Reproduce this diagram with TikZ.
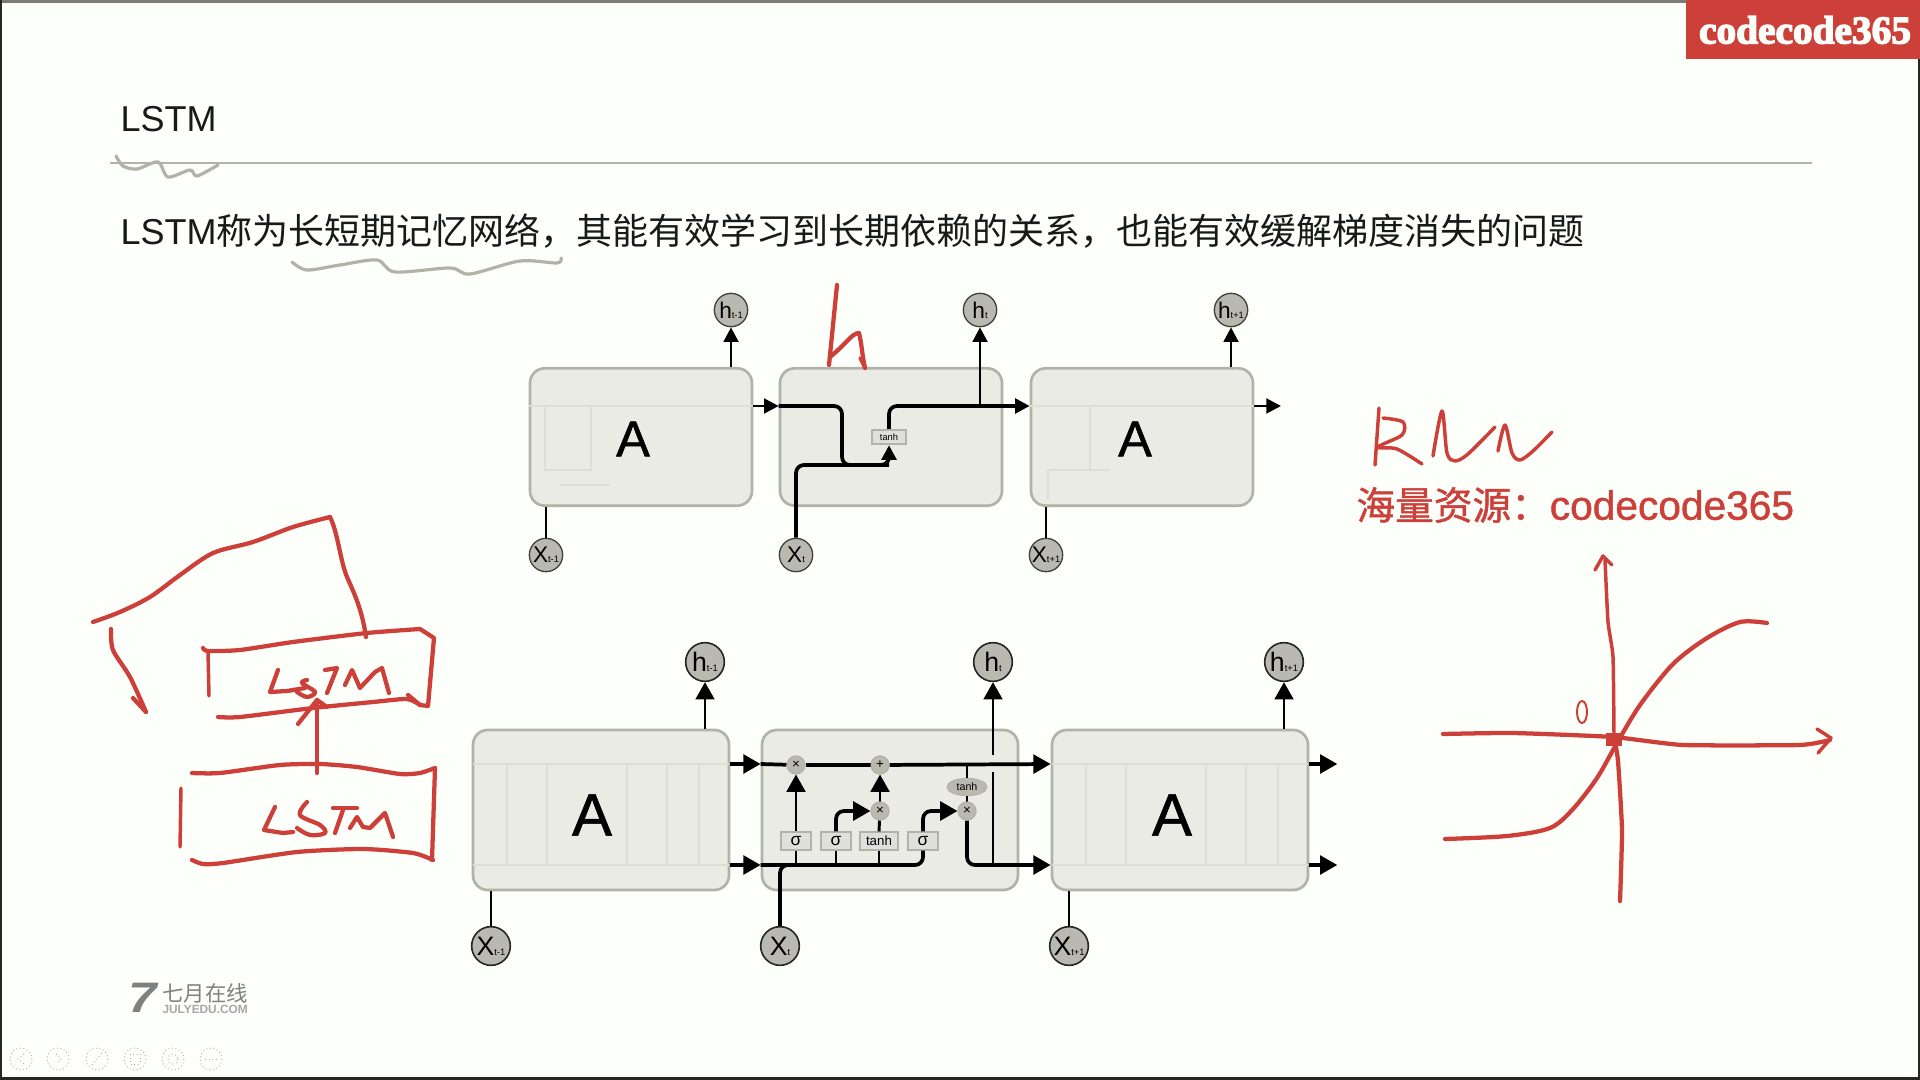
\documentclass[tikz,border=0pt]{standalone}
\usepackage{fontspec}
\usetikzlibrary{arrows.meta,shapes.geometric,positioning}
\setmainfont{Liberation Sans}
\newfontfamily\cjk{Noto Sans CJK SC}
\newfontfamily\cjkheavy[FakeBold=1.2]{Noto Sans CJK SC}
\newfontfamily\logofont[UprightFont={* Bold},FakeBold=3.5]{Liberation Serif}
\newfontfamily\cellfont[FakeBold=1]{Liberation Sans}
\newfontfamily\heavyfont[FakeBold=1.2]{Liberation Sans}
\definecolor{inkred}{HTML}{CD403A}
\definecolor{edgegrey}{HTML}{B2B2A8}
\definecolor{cellfill}{HTML}{EBEBE6}
\definecolor{ghostline}{HTML}{DEDED8}
\definecolor{ballfill}{HTML}{B9B9B1}
\definecolor{paper}{HTML}{FDFFFB}
\newcommand{\sublab}[2]{{#1}{\fontsize{7pt}{7pt}\selectfont #2}}
\tikzset{every picture/.style={line width=0.75pt},
	topcell/.style={draw=edgegrey,fill=cellfill,rounded corners=11pt,line width=2pt,inner sep=0pt,minimum width=166.5pt,minimum height=103pt},
	botcell/.style={draw=edgegrey,fill=cellfill,rounded corners=11pt,line width=2pt,inner sep=0pt,minimum width=192pt,minimum height=120pt},
	toplab/.style={inner sep=0pt,font=\cellfont\fontsize{38pt}{38pt}\selectfont},
	botlab/.style={inner sep=0pt,font=\cellfont\fontsize{45pt}{45pt}\selectfont},
	topball/.style={circle,draw=black!75,fill=ballfill,line width=1pt,inner sep=0pt,minimum size=25pt,font=\fontsize{17pt}{17pt}\selectfont},
	botball/.style={circle,draw=black!85,fill=ballfill,line width=1.2pt,inner sep=0pt,minimum size=29pt,font=\fontsize{20pt}{20pt}\selectfont},
	layer/.style={draw=edgegrey,fill=ballfill!45,line width=1.3pt,inner sep=0pt,minimum width=22pt,minimum height=13pt,font=\fontsize{10pt}{10pt}\selectfont},
	gate/.style={circle,draw=edgegrey,fill=ballfill,inner sep=0pt,minimum size=13.5pt,font=\fontsize{10pt}{10pt}\selectfont},
	thin flow/.style={draw=black,line width=2.2pt},
	flow/.style={draw=black,line width=2.8pt,rounded corners=6pt},
	tiparrow/.style={-{Triangle[length=11pt,width=11pt]}},
	bigtip/.style={-{Triangle[length=13pt,width=14pt]}},
	ghost/.style={draw=ghostline,line width=1pt},
	ink/.style={draw=inkred,line width=3.2pt,line cap=round,line join=round},
	thinink/.style={draw=inkred,line width=2.6pt,line cap=round,line join=round},
	pencil/.style={draw=edgegrey,line width=2.4pt,line cap=round,line join=round},
}

\begin{document}
\begin{tikzpicture}[x=0.75pt,y=0.75pt,yscale=-1,xscale=1]
	\useasboundingbox (0,0) rectangle (1920,1080);
	\fill [paper] (0,0) rectangle (1920,1080);
	\fill [edgegrey!70!black] (0,0) rectangle (1686,3);
	\fill [black!85] (0,0) rectangle (2,1080);
	\fill [black!85] (0,1077) rectangle (1920,1080);
	\fill [black!85] (1918,59) rectangle (1920,1080);

	% Banner
	\fill [inkred] (1686,0) rectangle (1920,59);
	\node [text=paper,font=\logofont\fontsize{29.5pt}{29.5pt}\selectfont,inner sep=0pt] (banner) at (1805,30) {codecode365};

	% Text Node
	\node [anchor=west,inner sep=0pt,font=\fontsize{27pt}{27pt}\selectfont,text=black!90] (title) at (120,119) {LSTM};
	\draw [edgegrey,line width=1pt] (110,163) -- (1812,163);
	\node [anchor=base west,inner sep=0pt,font=\fontsize{27pt}{27pt}\selectfont,text=black!90] (intro) at (120,245) {LSTM{\cjk 称为长短期记忆网络，其能有效学习到长期依赖的关系，也能有效缓解梯度消失的问题}};

	% Pencil under the words
	\draw [pencil] plot [smooth,tension=0.5] coordinates {(116,156) (123,166) (137,169) (158,162) (168,177) (190,170) (197,176) (218,165)};
	\draw [pencil] plot [smooth,tension=0.5] coordinates {(292,262) (307,270) (340,265) (377,260) (395,272) (450,268) (470,274) (520,261) (557,263) (561,258)};

	%Top row
	\coordinate (topflow) at (0,406);
	\coordinate (topmix) at (0,465);
	\coordinate (topdrop) at (842,0);
	\node [topcell] (topa) at (641,437) {};
	\node [topcell] (topb) at (891,437) {};
	\node [topcell] (topc) at (1142,437) {};
	\draw [ghost] (topa.west |- topflow) -- (topa.east |- topflow);
	\draw [ghost] (591,406) -- (591,470) -- (545,470) -- (545,406);
	\draw [ghost] (560,485) -- (610,485);
	\draw [ghost] (topc.west |- topflow) -- (topc.east |- topflow);
	\draw [ghost] (1048,500) -- (1048,470) -- (1110,470);
	\draw [ghost] (1090,406) -- (1090,470);
	\node [toplab] (topalab) at (633,439) {A};
	\node [toplab] (topclab) at (1135,439) {A};

	\node [topball] (hpa) at (731,310) {\sublab{h}{t-1}};
	\node [topball] (hpb) at (980,310) {\sublab{h}{t}};
	\node [topball] (hpc) at (1231,310) {\sublab{h}{t+1}};
	\node [topball] (xpa) at (546,555) {\sublab{X}{t-1}};
	\node [topball] (xpb) at (796,555) {\sublab{X}{t}};
	\node [topball] (xpc) at (1046,555) {\sublab{X}{t+1}};
	\node [layer,minimum width=25pt,minimum height=11pt,font=\fontsize{7pt}{7pt}\selectfont] (toptanh) at (889,437) {tanh};
	\coordinate [right=20pt of topc.east |- topflow] (topend);

	\draw [thin flow,tiparrow] (topa.north -| hpa) -- (hpa);
	\draw [thin flow,tiparrow] (topc.north -| hpc) -- (hpc);
	\draw [thin flow] (xpa) -- (xpa |- topa.south);
	\draw [thin flow] (xpc) -- (xpc |- topc.south);
	\draw [thin flow,tiparrow] (topa.east |- topflow) -- (topb.west |- topflow);
	\draw [thin flow,tiparrow] (topc.east |- topflow) -- (topend);
	\draw [flow] (topb.west |- topflow) -- (topdrop |- topflow) -- (topdrop |- topmix) -- (toptanh |- topmix);
	\draw [flow,tiparrow] (xpb) -- (xpb |- topmix) -- (toptanh |- topmix) -- (toptanh.south);
	\draw [flow,tiparrow] (toptanh.north) -- (toptanh |- topflow) -- (topc.west |- topflow);
	\draw [thin flow,tiparrow] (hpb |- topflow) -- (hpb);

	%Bottom row
	\coordinate (upflow) at (0,764);
	\coordinate (lowflow) at (0,865);
	\coordinate (gapa) at (0,772);
	\coordinate (gapb) at (0,755);
	\node [botcell] (bota) at (601,810) {};
	\node [botcell] (botb) at (890,810) {};
	\node [botcell] (botc) at (1180,810) {};
	\foreach \bx in {473,1052} {
		\draw [ghost] (\bx,764) -- (\bx+256,764);
		\draw [ghost] (\bx,865) -- (\bx+256,865);
		\draw [ghost] (\bx+34,764) -- (\bx+34,865);
		\draw [ghost] (\bx+74,764) -- (\bx+74,865);
		\draw [ghost] (\bx+154,764) -- (\bx+154,865);
		\draw [ghost] (\bx+194,764) -- (\bx+194,865);
		\draw [ghost] (\bx+226,764) -- (\bx+226,865);
	}
	\node [botlab] (botalab) at (592,815) {A};
	\node [botlab] (botclab) at (1172,815) {A};

	\node [botball] (hqa) at (705,662) {\sublab{h}{t-1}};
	\node [botball] (hqb) at (993,662) {\sublab{h}{t}};
	\node [botball] (hqc) at (1284,662) {\sublab{h}{t+1}};
	\node [botball] (xqa) at (491,946) {\sublab{X}{t-1}};
	\node [botball] (xqb) at (780,946) {\sublab{X}{t}};
	\node [botball] (xqc) at (1069,946) {\sublab{X}{t+1}};
	\node [layer,font=\fontsize{13pt}{13pt}\selectfont] (siga) at (796,841) {σ};
	\node [layer,font=\fontsize{13pt}{13pt}\selectfont] (sigb) at (836,841) {σ};
	\node [layer,minimum width=29pt] (tanhb) at (879,841) {tanh};
	\node [layer,font=\fontsize{13pt}{13pt}\selectfont] (sigc) at (923,841) {σ};
	\node [gate] (multa) at (796,765) {};
	\node [gate] (plusa) at (880,765) {};
	\node [gate] (multb) at (880,811) {};
	\node [gate] (multc) at (967,811) {};
	\node [ellipse,draw=edgegrey,fill=ballfill,inner sep=0pt,minimum width=30pt,minimum height=13pt,font=\fontsize{8pt}{8pt}\selectfont] (tanhe) at (967,787) {tanh};
	\coordinate [right=21pt of botc.east |- upflow] (upend);
	\coordinate [right=21pt of botc.east |- lowflow] (lowend);

	\draw [thin flow,bigtip] (bota.north -| hqa) -- (hqa);
	\draw [thin flow,bigtip] (botc.north -| hqc) -- (hqc);
	\draw [thin flow] (xqa) -- (xqa |- bota.south);
	\draw [thin flow] (xqc) -- (xqc |- botc.south);
	\draw [flow,bigtip] (bota.east |- upflow) -- (botb.west |- upflow);
	\draw [flow,bigtip] (bota.east |- lowflow) -- (botb.west |- lowflow);
	\draw [flow,bigtip] (botc.east |- upflow) -- (upend);
	\draw [flow,bigtip] (botc.east |- lowflow) -- (lowend);

	\draw [flow] (botb.west |- upflow) -- (multa);
	\draw [flow] (multa) -- (plusa);
	\draw [flow,bigtip] (plusa) -- (botc.west |- upflow);
	\draw [flow] (botb.west |- lowflow) -- (sigc |- lowflow) -- (sigc.south);
	\draw [flow] (xqb) -- (xqb |- lowflow) -- ([xshift=12pt]xqb |- lowflow);
	\draw [thin flow] (siga.south) -- (siga |- lowflow);
	\draw [thin flow] (sigb.south) -- (sigb |- lowflow);
	\draw [thin flow] (tanhb.south) -- (tanhb |- lowflow);
	\draw [thin flow,bigtip] (siga.north) -- (multa);
	\draw [flow,bigtip] (sigb.north) -- (sigb |- multb) -- (multb);
	\draw [thin flow] (tanhb.north) -- (multb);
	\draw [thin flow,bigtip] (multb) -- (plusa);
	\draw [flow,bigtip] (sigc.north) -- (sigc |- multc) -- (multc);
	\draw [flow,bigtip] (multc) -- (multc |- lowflow) -- (botc.west |- lowflow);
	\draw [thin flow] (multc) -- (tanhe);
	\draw [thin flow] (tanhe) -- (tanhe |- upflow);
	\draw [thin flow] (hqb |- lowflow) -- (hqb |- gapa);
	\draw [thin flow,bigtip] (hqb |- gapb) -- (hqb);
	\node [gate] (multatop) at (multa) {×};
	\node [gate] (plusatop) at (plusa) {+};
	\node [gate] (multbtop) at (multb) {×};
	\node [gate] (multctop) at (multc) {×};

	% Watermark text
	\node [anchor=west,inner sep=0pt,text=inkred,font=\fontsize{29pt}{29pt}\selectfont] (source) at (1356,505) {{\cjkheavy 海量资源：}{\heavyfont\fontsize{30.5pt}{30.5pt}\selectfont codecode365}};

	% Logo
	\node [inner sep=0pt,text=black!50,font=\bfseries\itshape\fontsize{32pt}{32pt}\selectfont,xscale=1.2] (logoseven) at (143,998) {7};
	\node [anchor=west,inner sep=0pt,text=black!50,text height=13pt,text depth=0pt,font=\cjk\fontsize{16pt}{16pt}\selectfont] (logoname) at (162,993) {七月在线};
	\node [anchor=north west,inner sep=0pt,text=black!35,text height=6pt,text depth=0pt,font=\bfseries\fontsize{8.9pt}{8.9pt}\selectfont] (logoweb) at (162,1005) {JULYEDU.COM};

	% Player controls
	\foreach \cx in {21,58,97,135,173,211} {
		\draw [edgegrey,line width=0.7pt,dotted] (\cx,1059) circle (11);
	}
	\draw [edgegrey,line width=0.7pt,dotted] (24,1054) -- (18,1059) -- (24,1064);
	\draw [edgegrey,line width=0.7pt,dotted] (56,1054) -- (61,1059) -- (56,1064);
	\draw [edgegrey,line width=0.7pt,dotted] (92,1065) -- (102,1053);
	\draw [edgegrey,line width=0.7pt,dotted] (130,1054) rectangle (140,1064);
	\draw [edgegrey,line width=0.7pt,dotted] (173,1059) circle (5);
	\draw [edgegrey,line width=0.7pt,dotted] (205,1059) -- (217,1059);

	% Ink h over the cell
	\draw [ink] (837,285) -- (829,365);
	\draw [ink] (830,357) .. controls (845,345) and (852,333) .. (859,333) .. controls (862,345) and (862,355) .. (865,368);
	\draw [thinink] (860,358) -- (865,368);

	% Ink two cells
	\draw [ink] plot [smooth,tension=0.5] coordinates {(93,622) (120,612) (150,597) (180,575) (213,553) (253,542) (293,527) (330,517)};
	\draw [ink] (330,517) .. controls (338,533) and (340,560) .. (347,577) .. controls (355,595) and (362,610) .. (366,637);
	\draw [ink] plot [smooth,tension=0.5] coordinates {(111,629) (113,650) (130,677) (146,712)};
	\draw [ink] (133,698) -- (146,712);
	\draw [ink] plot [smooth,tension=0.4] coordinates {(203,648) (208,651) (240,650) (293,642) (367,633) (420,629)};
	\draw [ink] (420,629) -- (434,638) -- (428,706) -- (420,705);
	\draw [ink] plot [smooth,tension=0.4] coordinates {(218,717) (240,717) (313,708) (373,702) (407,699) (420,705)};
	\draw [ink] (408,695) -- (420,705);
	\draw [thinink] (208,651) -- (209,696);
	\draw [ink] (317,773) -- (317,700);
	\draw [ink] (298,724) -- (317,700) -- (327,707);
	\draw [ink] plot [smooth,tension=0.4] coordinates {(192,773) (220,773) (280,765) (320,764) (357,767) (400,774) (420,773) (435,768)};
	\draw [ink] (435,768) -- (432,860);
	\draw [ink] plot [smooth,tension=0.4] coordinates {(192,860) (203,864) (223,863) (297,852) (363,849) (413,853) (433,860)};
	\draw [thinink] (181,788) -- (180,847);

	% Ink words
	\draw [ink] (278,670) -- (270,692) -- (287,691) -- (305,688);
	\draw [ink] plot [smooth,tension=0.6] coordinates {(307,680) (302,683) (315,692) (307,697) (297,692)};
	\draw [ink] (325,670) -- (337,668) -- (327,693);
	\draw [ink] (345,685) -- (352,670) -- (360,688) -- (375,672) -- (382,668) -- (389,693);
	\draw [ink] (275,807) -- (264,830) -- (283,833) -- (293,832);
	\draw [ink] plot [smooth,tension=0.6] coordinates {(307,802) (300,815) (320,825) (325,833) (310,835) (297,828)};
	\draw [ink] (333,808) -- (357,808);
	\draw [ink] (343,810) -- (335,833);
	\draw [ink] (350,828) -- (357,817) -- (363,827) -- (370,828) -- (385,813) -- (393,837);

	% Ink RNN
	\draw [thinink] (1379,408) -- (1375,465);
	\draw [thinink] plot [smooth,tension=0.5] coordinates {(1383,418) (1403,422) (1402,435) (1378,447) (1397,449) (1422,464)};
	\draw [thinink] plot [smooth,tension=0.5] coordinates {(1433,456) (1442,411) (1447,453) (1455,461) (1468,454) (1495,427)};
	\draw [thinink] plot [smooth,tension=0.5] coordinates {(1498,451) (1505,425) (1512,453) (1520,460) (1533,451) (1552,432)};

	% Ink axes
	\draw [ink] plot [smooth,tension=0.3] coordinates {(1620,901) (1622,830) (1618,761) (1614,736)};
	\draw [thinink] plot [smooth,tension=0.3] coordinates {(1614,736) (1613,657) (1608,622) (1605,560)};
	\draw [thinink] (1595,570) -- (1603,556) -- (1612,565);
	\draw [ink] plot [smooth,tension=0.3] coordinates {(1443,734) (1513,733) (1613,737) (1683,745) (1800,745) (1830,740)};
	\draw [thinink] (1817,729) -- (1831,738) -- (1818,753);
	\draw [ink] plot [smooth,tension=0.5] coordinates {(1445,839) (1507,836) (1550,828) (1573,809) (1597,778) (1617,743) (1640,705) (1673,664) (1707,638) (1740,622) (1767,623)};
	\fill [inkred] (1606,733) rectangle (1622,746);
	\draw [inkred,line width=1.5pt] (1582,712) ellipse (5 and 11);
\end{tikzpicture}
\end{document}
